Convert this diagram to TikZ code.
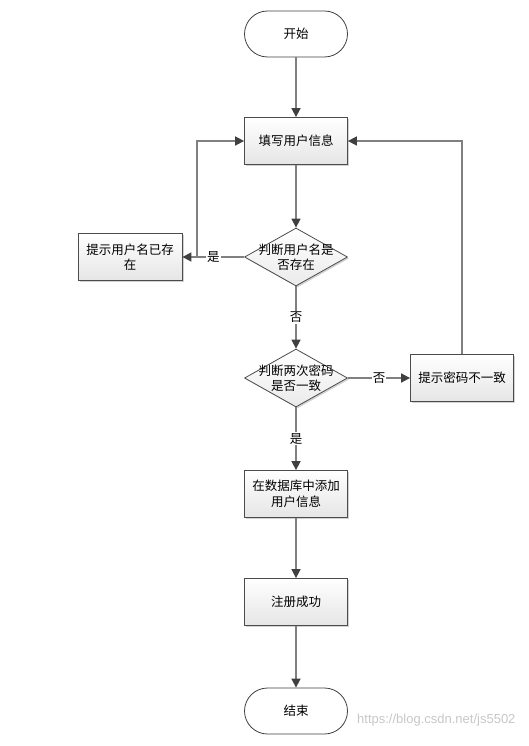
\documentclass[tikz,border=0pt]{standalone}
\usepackage{fontspec}
\setmainfont{Noto Sans CJK SC}
\newfontfamily\markfont{Liberation Sans}
\usetikzlibrary{shapes.geometric,shadows,arrows.meta}
\begin{document}
\begin{tikzpicture}[x=1pt,y=-1pt,
        font=\fontsize{12.5}{15.5}\selectfont,
        box/.style={rectangle, draw=black!70, line width=0.8pt, top color=white, bottom color=black!10,
          minimum width=103pt, minimum height=47pt, align=center, inner sep=2pt,
          drop shadow={shadow xshift=1.5pt, shadow yshift=-1.5pt, fill=black!35}},
        terminal/.style={rectangle, rounded corners=23pt, draw=black!75, line width=0.8pt, fill=white,
          minimum width=103pt, minimum height=46pt},
        decision/.style={diamond, draw=black!70, line width=0.8pt, top color=white, bottom color=black!8,
          minimum width=103pt, minimum height=58pt, inner sep=0pt,
          drop shadow={shadow xshift=1.5pt, shadow yshift=-1.5pt, fill=black!35}},
        line/.style={draw=black!50, line width=1.6pt, -{Triangle[width=9pt,length=9pt,color=black!75]}},
        tag/.style={fill=white, inner sep=1pt}]
       \useasboundingbox (0,0) rectangle (528,746);
       \node[terminal] (start) at (296,34) {开始};
       \node[box] (fill) at (296,141) {填写用户信息};
       \node[decision, label={[align=center]center:判断用户名是\\否存在}] (name) at (296,257) {};
       \node[box, minimum width=104pt] (exists) at (130,257) {提示用户名已存\\在};
       \node[decision, label={[align=center]center:判断两次密码\\是否一致}] (pwd) at (296,378) {};
       \node[box] (differ) at (462,378) {提示密码不一致};
       \node[box] (db) at (296,494) {在数据库中添加\\用户信息};
       \node[box] (ok) at (296,602) {注册成功};
       \node[terminal] (stop) at (296,711) {结束};
       \coordinate (back) at (197,257);
       \node[text=black!22, font=\markfont\fontsize{13}{15}\selectfont, anchor=east] (mark) at (519,720) {https://blog.csdn.net/js5502};
       \draw[line] (start) -- (fill);
       \draw[line] (fill) -- (name);
       \draw[line] (name) -- node[tag] {是} (exists);
       \draw[line] (back) |- (fill.west);
       \draw[line] (name) -- node[tag] {否} (pwd);
       \draw[line] (pwd) -- node[tag] {否} (differ);
       \draw[line] (differ.north) |- (fill.east);
       \draw[line] (pwd) -- node[tag] {是} (db);
       \draw[line] (db) -- (ok);
       \draw[line] (ok) -- (stop);
      \end{tikzpicture}
\end{document}
